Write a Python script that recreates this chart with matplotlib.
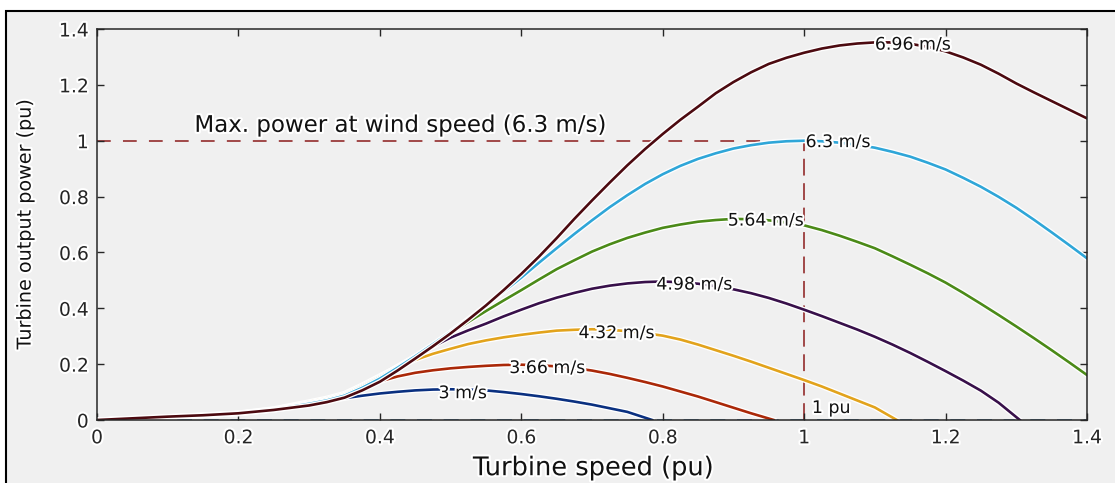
import matplotlib.pyplot as plt
import matplotlib.patheffects as pe
from matplotlib.patches import Rectangle

# turbine speed (pu) sample points
x_grid = [0, 0.05, 0.1, 0.15, 0.2, 0.25,
          0.3, 0.325, 0.35, 0.375, 0.4, 0.425, 0.45, 0.475, 0.5, 0.525, 0.55, 0.575,
          0.6, 0.625, 0.65, 0.675, 0.7, 0.725, 0.75, 0.775, 0.8, 0.825, 0.85, 0.875,
          0.9, 0.925, 0.95, 0.975, 1.0, 1.025, 1.05, 1.075, 1.1, 1.125, 1.15, 1.175,
          1.2, 1.225, 1.25, 1.275, 1.3, 1.325, 1.35, 1.375, 1.4]

# output power (pu) per wind speed
p_3 = [0, 0.005, 0.011, 0.016, 0.023, 0.036,
       0.055, 0.067, 0.078, 0.087, 0.095, 0.101, 0.106, 0.109, 0.11, 0.109, 0.106, 0.1,
       0.093, 0.085, 0.076, 0.066, 0.055, 0.042, 0.029]
end_3 = 0.785

p_366 = [0, 0.005, 0.011, 0.016, 0.023, 0.036,
         0.055, 0.069, 0.085, 0.112, 0.138, 0.156, 0.169, 0.178, 0.185, 0.19, 0.194, 0.197,
         0.198, 0.196, 0.192, 0.186, 0.177, 0.165, 0.151, 0.136, 0.12, 0.102, 0.084, 0.064,
         0.044, 0.024]
end_366 = 0.957

p_432 = [0, 0.006, 0.012, 0.018, 0.025, 0.04,
         0.065, 0.078, 0.095, 0.125, 0.158, 0.19, 0.215, 0.237, 0.255, 0.272, 0.285, 0.296,
         0.305, 0.313, 0.32, 0.323, 0.325, 0.323, 0.318, 0.311, 0.302, 0.288, 0.27, 0.25,
         0.23, 0.209, 0.187, 0.165, 0.143, 0.12, 0.095, 0.07, 0.045]
end_432 = 1.131

p_498 = [0, 0.005, 0.011, 0.017, 0.024, 0.039,
         0.062, 0.075, 0.092, 0.122, 0.155, 0.192, 0.228, 0.263, 0.295, 0.321, 0.345, 0.371,
         0.395, 0.418, 0.438, 0.455, 0.47, 0.481, 0.489, 0.494, 0.496, 0.493, 0.488, 0.479,
         0.468, 0.454, 0.437, 0.417, 0.395, 0.372, 0.348, 0.324, 0.298, 0.27, 0.24, 0.208,
         0.175, 0.141, 0.105, 0.062]
end_498 = 1.305

p_564 = [0, 0.005, 0.011, 0.017, 0.024, 0.038,
         0.06, 0.073, 0.09, 0.119, 0.152, 0.19, 0.228, 0.27, 0.31, 0.351, 0.39, 0.428,
         0.465, 0.503, 0.54, 0.572, 0.603, 0.629, 0.652, 0.671, 0.688, 0.70, 0.71, 0.716,
         0.72, 0.719, 0.715, 0.707, 0.697, 0.68, 0.66, 0.638, 0.615, 0.586, 0.556, 0.525,
         0.492, 0.455, 0.416, 0.376, 0.335, 0.293, 0.25, 0.206, 0.161]

p_63 = [0, 0.005, 0.011, 0.016, 0.023, 0.037,
        0.058, 0.07, 0.087, 0.115, 0.148, 0.187, 0.228, 0.271, 0.315, 0.362, 0.41, 0.46,
        0.51, 0.563, 0.615, 0.666, 0.715, 0.762, 0.805, 0.845, 0.88, 0.91, 0.935, 0.955,
        0.972, 0.984, 0.993, 0.998, 1.0, 0.998, 0.993, 0.985, 0.975, 0.96, 0.943, 0.921,
        0.897, 0.867, 0.835, 0.799, 0.76, 0.717, 0.672, 0.626, 0.579]

p_696 = [0, 0.006, 0.012, 0.017, 0.024, 0.036,
         0.052, 0.064, 0.08, 0.106, 0.137, 0.177, 0.22, 0.264, 0.31, 0.359, 0.41, 0.465,
         0.523, 0.585, 0.651, 0.72, 0.786, 0.85, 0.912, 0.97, 1.024, 1.075, 1.122, 1.17,
         1.21, 1.245, 1.275, 1.297, 1.315, 1.33, 1.341, 1.348, 1.352, 1.352, 1.347, 1.336,
         1.32, 1.298, 1.272, 1.24, 1.205, 1.173, 1.142, 1.111, 1.08]

labels = ['3 m/s', '3.66 m/s', '4.32 m/s', '4.98 m/s', '5.64 m/s', '6.3 m/s', '6.96 m/s']
label_x = [0.483, 0.583, 0.681, 0.791, 0.892, 1.002, 1.1]
label_y = [0.096, 0.186, 0.311, 0.485, 0.714, 0.995, 1.344]


def trace(p, end=None):
    xs = x_grid[:len(p)]
    if end is None:
        return xs, p
    return xs + [end], p + [0]


series = [trace(p_3, end_3), trace(p_366, end_366), trace(p_432, end_432),
          trace(p_498, end_498), trace(p_564), trace(p_63), trace(p_696)]
colors = ['#0a3080', '#aa2808', '#e2a31c', '#38104a', '#4b8a18', '#2fa6d8', '#4c0a10']

bg = '#f0f0f0'
fig = plt.figure(figsize=(11.15, 4.83), dpi=100, facecolor='white')
# grey window with a black frame, like the screenshot
fig.patches.append(Rectangle((6 / 1115, -0.1), 1.2, 1.1 - 11 / 483,
                             transform=fig.transFigure, facecolor=bg,
                             edgecolor='black', linewidth=1.5, zorder=-10))

ax = fig.add_axes([97 / 1115, 1 - 420 / 483, 990 / 1115, 391 / 483])
ax.set_facecolor(bg)

halo = [pe.Stroke(linewidth=3.8, foreground='white'), pe.Normal()]

ax.axhline(0, color='#5b8cb4', ls=(0, (9, 7)), lw=1.2, zorder=1)
ax.plot([0, 1.0], [1.0, 1.0], color='#8b1a1a', ls=(0, (9, 8)), lw=1.1, zorder=1)
ax.plot([1.0, 1.0], [0, 1.0], color='#8b1a1a', ls=(0, (11, 5)), lw=1.1, zorder=1)

for (xs, ys), c in zip(series, colors):
    ax.plot(xs, ys, color=c, lw=1.9, path_effects=halo, zorder=2,
            solid_joinstyle='round')

txt_halo = [pe.withStroke(linewidth=3, foreground='white')]
for lab, lx, ly in zip(labels, label_x, label_y):
    ax.text(lx, ly, lab, fontsize=12.5, va='center', ha='left', color='#111111',
            path_effects=txt_halo, zorder=3)

ax.text(0.429, 1.055, 'Max. power at wind speed (6.3 m/s)', fontsize=16.5,
        ha='center', va='center', color='#111111', path_effects=txt_halo, zorder=3)
ax.text(1.011, 0.043, '1 pu', fontsize=12.5, ha='left', va='center',
        color='#111111', path_effects=txt_halo, zorder=3)

ticks = [0, 0.2, 0.4, 0.6, 0.8, 1.0, 1.2, 1.4]
tick_text = ['0', '0.2', '0.4', '0.6', '0.8', '1', '1.2', '1.4']
ax.set_xlim(0, 1.4)
ax.set_ylim(0, 1.4)
ax.set_xticks(ticks)
ax.set_xticklabels(tick_text)
ax.set_yticks(ticks)
ax.set_yticklabels(tick_text)
ax.tick_params(direction='in', length=5, width=1, labelsize=13.5, colors='#262626',
               top=True, right=True, pad=6)
for lab in ax.get_xticklabels() + ax.get_yticklabels():
    lab.set_path_effects(txt_halo)
for s in ax.spines.values():
    s.set_color('#262626')
    s.set_linewidth(1.1)

ax.set_xlabel('Turbine speed (pu)', fontsize=18.5, color='#111111',
              path_effects=txt_halo)
ax.xaxis.set_label_coords(0.502, -0.09)
ax.set_ylabel('Turbine output power (pu)', fontsize=13.8, color='#111111',
              path_effects=txt_halo)
ax.yaxis.set_label_coords(-0.063, 0.5)

fig.savefig('out.png', dpi=100, facecolor=fig.get_facecolor())
